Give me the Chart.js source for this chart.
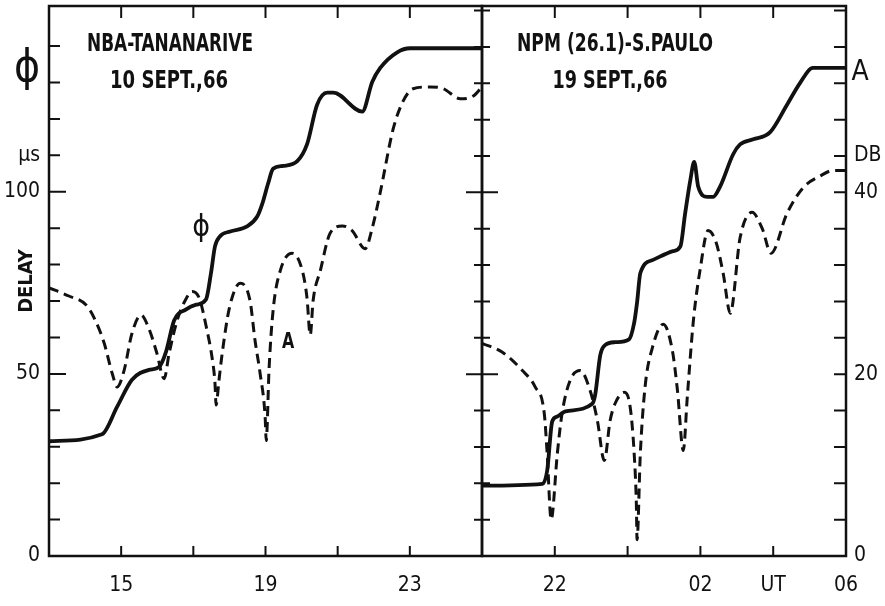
<!DOCTYPE html>
<html>
<head>
<meta charset="utf-8">
<script src="https://cdn.jsdelivr.net/npm/chart.js@4.4.0/dist/chart.umd.min.js"></script>
<style>
body { margin: 0; background: #fff; }
#wrap { position: relative; width: 885px; height: 606px; }
canvas { position: absolute; left: 0; top: 0; }
</style>
</head>
<body>
<div id="wrap">
<canvas id="leftChart" width="885" height="606"></canvas>
<canvas id="rightChart" width="885" height="606"></canvas>
</div>
<script>
// NBA - Tananarive, 10 Sept 66 (hours UT)
const leftPhiHours = [13.0, 14.47, 14.89, 15.3, 15.77, 16.05, 16.24, 16.47, 16.8, 17.08, 17.35, 17.49, 17.6, 17.74, 18.02, 18.49, 18.77, 18.91, 19.07, 19.21, 19.49, 19.88, 20.15, 20.43, 20.71, 20.88, 21.68, 21.96, 22.18, 22.65, 23.01, 25.0];
const leftPhiDelay = [31.5, 33.4, 41, 48.4, 51.1, 51.9, 56, 64.7, 67.7, 69, 70.4, 77.7, 85, 87.8, 89.1, 90.5, 93.2, 96.7, 102.2, 106.3, 107.1, 108.4, 113, 123.9, 127.2, 127.2, 122, 130.2, 134, 138.3, 139.4, 139.4];
const leftAmpHours = [13.0, 13.55, 14.03, 14.25, 14.53, 14.75, 14.89, 15.08, 15.3, 15.55, 15.77, 15.99, 16.19, 16.33, 16.55, 16.8, 16.97, 17.16, 17.38, 17.52, 17.6, 17.63, 17.71, 17.8, 18.0, 18.3, 18.57, 18.71, 18.85, 18.99, 19.02, 19.1, 19.21, 19.41, 19.74, 20.02, 20.15, 20.24, 20.32, 20.52, 20.79, 21.13, 21.4, 21.76, 21.96, 22.18, 22.54, 22.81, 23.09, 23.57, 23.93, 24.4, 24.76, 25.0];
const leftAmpDb = [29.5, 28.6, 27.6, 26.2, 23.4, 20.1, 18.6, 20.4, 24.5, 26.5, 25.0, 22.3, 19.5, 22.3, 25.9, 28.3, 29.1, 28.4, 24.8, 21.8, 19.0, 16.6, 19.3, 22.3, 27.3, 30.0, 28.1, 23.7, 20.1, 15.3, 12.7, 20.7, 27.0, 31.4, 33.3, 31.4, 28.4, 24.3, 28.1, 31.4, 35.5, 36.3, 35.8, 33.8, 36.1, 40.0, 47.0, 50.0, 51.4, 51.6, 51.4, 50.3, 50.6, 51.6];

// NPM (26.1) - S. Paulo, 19 Sept 66 (hours UT, 30 = 06)
const rightPhiHours = [20.0, 21.66, 21.79, 21.93, 22.07, 22.29, 23.03, 23.11, 23.25, 23.38, 23.66, 24.04, 24.18, 24.26, 24.35, 24.7, 25.25, 25.45, 25.58, 25.72, 25.83, 25.94, 26.19, 26.35, 26.54, 26.9, 27.09, 27.45, 27.91, 28.38, 28.74, 29.09, 30.0];
const rightPhiDelay = [19.3, 19.8, 23.4, 37, 38.3, 39.7, 41.8, 44.3, 55.2, 57.9, 58.7, 59.5, 64, 69.6, 77.7, 81.3, 83.7, 85, 94, 103, 108.2, 101.4, 98.6, 98.6, 101.4, 110.3, 113, 114.4, 116.3, 123.9, 129.9, 134, 134];
const rightAmpHours = [20.0, 20.56, 21.11, 21.46, 21.71, 21.79, 21.9, 22.07, 22.2, 22.42, 22.7, 22.97, 23.17, 23.36, 23.52, 23.66, 23.91, 24.07, 24.18, 24.24, 24.26, 24.35, 24.48, 24.68, 24.98, 25.23, 25.37, 25.53, 25.64, 25.81, 26.0, 26.21, 26.43, 26.63, 26.82, 27.09, 27.42, 27.7, 27.94, 28.38, 28.82, 29.29, 29.64, 30.0];
const rightAmpDb = [23.4, 22.4, 20.4, 18.6, 15.7, 11.3, 4.0, 11.3, 15.7, 19.3, 20.4, 18.2, 14.9, 10.5, 14.9, 16.8, 18.0, 16.4, 11.3, 5.8, 1.8, 11.3, 18.6, 22.9, 25.5, 22.6, 18.2, 11.6, 17.5, 26.0, 31.7, 35.8, 34.5, 31.0, 26.7, 35.0, 37.8, 36.0, 33.3, 37.7, 40.5, 41.8, 42.4, 42.4];

// axis ticks and labels
const leftHourTicks = [15, 17, 19, 21, 23];
const leftHourLabels = { 15: '15', 19: '19', 23: '23' };
const rightHourTicks = [22, 24, 26, 28, 30];
const rightHourLabels = { 22: '22', 26: '02', 28: 'UT', 30: '06' };
const delayTicks = [0, 10, 20, 30, 40, 50, 60, 70, 80, 90, 100, 110, 120, 130, 140];
const delayLabels = { 0: '0', 50: '50', 100: '100', 110: '\u03bcs' };
const dbTicks = [0, 4, 8, 12, 16, 20, 24, 28, 32, 36, 40, 44, 48, 52, 56, 60];
const dbLabels = { 0: '0', 20: '20', 40: '40', 44: 'DB' };

const FONT = "'DejaVu Sans Condensed', 'Liberation Sans Narrow', sans-serif";
const INK = '#111';
Chart.defaults.font.family = FONT;
Chart.defaults.color = INK;

function pts(xs, ys) {
    return xs.map((x, i) => ({ x: x, y: ys[i] }));
}

function setTicks(list) {
    return function(s) { s.ticks = list.map(v => ({ value: v })); };
}
function fixSize(w, h) {
    return function(s) {
        if (w != null) s.width = w;
        if (h != null) s.height = h;
        s.paddingTop = 0; s.paddingBottom = 0; s.paddingLeft = 0; s.paddingRight = 0;
    };
}

// frame, inward tick marks and lettering
const framePlugin = {
    id: 'frame',
    afterDraw(chart, args, opts) {
        const ctx = chart.ctx;
        const a = chart.chartArea;
        ctx.save();
        ctx.strokeStyle = INK;
        ctx.lineWidth = 2.5;
        ctx.strokeRect(a.left, a.top, a.right - a.left, a.bottom - a.top);
        ctx.lineWidth = 2;
        ctx.beginPath();
        (opts.marks || []).forEach(m => {
            const sc = chart.scales[m.scale];
            sc.ticks.forEach(t => {
                const v = t.value;
                if (v <= sc.min || v >= sc.max) return;
                const p = sc.getPixelForValue(v);
                const len = (m.long && m.long.includes(v)) ? m.longLen : m.len;
                if (m.side === 'left') { ctx.moveTo(a.left - (m.both ? len : 0), p); ctx.lineTo(a.left + len, p); }
                if (m.side === 'right') { ctx.moveTo(a.right, p); ctx.lineTo(a.right - len, p); }
                if (m.side === 'bottom') { ctx.moveTo(p, a.bottom); ctx.lineTo(p, a.bottom - len); }
                if (m.side === 'top') { ctx.moveTo(p, a.top); ctx.lineTo(p, a.top + len); }
            });
        });
        ctx.stroke();
        ctx.fillStyle = INK;
        ctx.textAlign = 'center';
        ctx.textBaseline = 'middle';
        (opts.texts || []).forEach(t => {
            ctx.font = (t.weight || 'bold') + ' ' + t.size + 'px ' + FONT;
            let x = t.x, y = t.y;
            if (t.xv != null) x = chart.scales.x.getPixelForValue(t.xv);
            if (t.yv != null) y = chart.scales[t.axis].getPixelForValue(t.yv);
            // squeeze lettering to the narrow width of the original
            const sx = t.w ? t.w / ctx.measureText(t.text).width : (t.sx || 1);
            ctx.save();
            ctx.translate(x, y);
            ctx.scale(sx, 1);
            ctx.fillText(t.text, 0, 0);
            ctx.restore();
        });
        ctx.restore();
    }
};

function lineSets(phiH, phiV, ampH, ampV) {
    return [
        { label: 'phi', data: pts(phiH, phiV), yAxisID: 'y', borderColor: INK, borderWidth: 3.8,
          pointRadius: 0, cubicInterpolationMode: 'monotone' },
        { label: 'A', data: pts(ampH, ampV), yAxisID: 'y2', borderColor: INK, borderWidth: 3,
          borderDash: [10, 6], pointRadius: 0, cubicInterpolationMode: 'monotone' }
    ];
}

const noGrid = { display: false, drawTicks: false };
const tickFont = { size: 21 };

new Chart(document.getElementById('leftChart'), {
    type: 'line',
    data: { datasets: lineSets(leftPhiHours, leftPhiDelay, leftAmpHours, leftAmpDb) },
    plugins: [framePlugin],
    options: {
        responsive: false,
        animation: false,
        events: [],
        layout: { padding: { top: 6, right: 403, left: 0, bottom: 0 } },
        plugins: {
            legend: { display: false },
            tooltip: { enabled: false },
            frame: {
                marks: [
                    { scale: 'y', side: 'left', len: 11, longLen: 17, long: [50, 100] },
                    { scale: 'x', side: 'bottom', len: 10 },
                    { scale: 'x', side: 'top', len: 12 }
                ],
                texts: [
                    { text: 'NBA-TANANARIVE', x: 170, y: 44, size: 25, w: 166 },
                    { text: '10 SEPT.,66', x: 169, y: 81, size: 25, w: 118 },
                    { text: '\u03d5', x: 27, y: 70, size: 44, weight: 'normal' },
                    { text: '\u03d5', xv: 17.22, yv: 90, axis: 'y', size: 30, weight: 'normal' },
                    { text: 'A', xv: 19.63, yv: 23.5, axis: 'y2', size: 22, sx: 0.8 }
                ]
            }
        },
        scales: {
            x: {
                type: 'linear', min: 13, max: 25,
                afterBuildTicks: setTicks(leftHourTicks),
                afterFit: fixSize(null, 50),
                grid: noGrid, border: { display: false },
                ticks: { callback: v => leftHourLabels[v] || '', font: tickFont, padding: 17, maxRotation: 0, autoSkip: false }
            },
            y: {
                position: 'left', min: 0, max: 151,
                afterBuildTicks: setTicks(delayTicks),
                afterFit: fixSize(49, null),
                grid: noGrid, border: { display: false },
                ticks: { callback: v => delayLabels[v] || '', font: tickFont, padding: 9, autoSkip: false },
                title: { display: true, text: 'DELAY', font: { size: 20, weight: 'bold' }, padding: { top: 15, bottom: 0 } }
            },
            y2: { display: false, min: 0, max: 60.5 }
        }
    }
});

new Chart(document.getElementById('rightChart'), {
    type: 'line',
    data: { datasets: lineSets(rightPhiHours, rightPhiDelay, rightAmpHours, rightAmpDb) },
    plugins: [framePlugin],
    options: {
        responsive: false,
        animation: false,
        events: [],
        layout: { padding: { top: 6, right: 0, left: 482, bottom: 0 } },
        plugins: {
            legend: { display: false },
            tooltip: { enabled: false },
            frame: {
                marks: [
                    { scale: 'y2', side: 'left', both: true, len: 8, longLen: 16, long: [20, 40] },
                    { scale: 'y2', side: 'right', len: 12 },
                    { scale: 'x', side: 'bottom', len: 10 },
                    { scale: 'x', side: 'top', len: 12 }
                ],
                texts: [
                    { text: 'NPM (26.1)-S.PAULO', x: 615, y: 44, size: 25, w: 196 },
                    { text: '19 SEPT.,66', x: 610, y: 81, size: 25, w: 115 },
                    { text: 'A', x: 860, y: 73, size: 28, weight: 'normal' }
                ]
            }
        },
        scales: {
            x: {
                type: 'linear', min: 20, max: 30,
                afterBuildTicks: setTicks(rightHourTicks),
                afterFit: fixSize(null, 50),
                grid: noGrid, border: { display: false },
                ticks: { callback: v => rightHourLabels[v] || '', font: tickFont, padding: 17, maxRotation: 0, autoSkip: false }
            },
            y: { display: false, min: 0, max: 151 },
            y2: {
                position: 'right', min: 0, max: 60.5,
                afterBuildTicks: setTicks(dbTicks),
                afterFit: fixSize(39, null),
                grid: noGrid, border: { display: false },
                ticks: { callback: v => dbLabels[v] || '', font: tickFont, padding: 8, autoSkip: false }
            }
        }
    }
});
</script>
</body>
</html>
